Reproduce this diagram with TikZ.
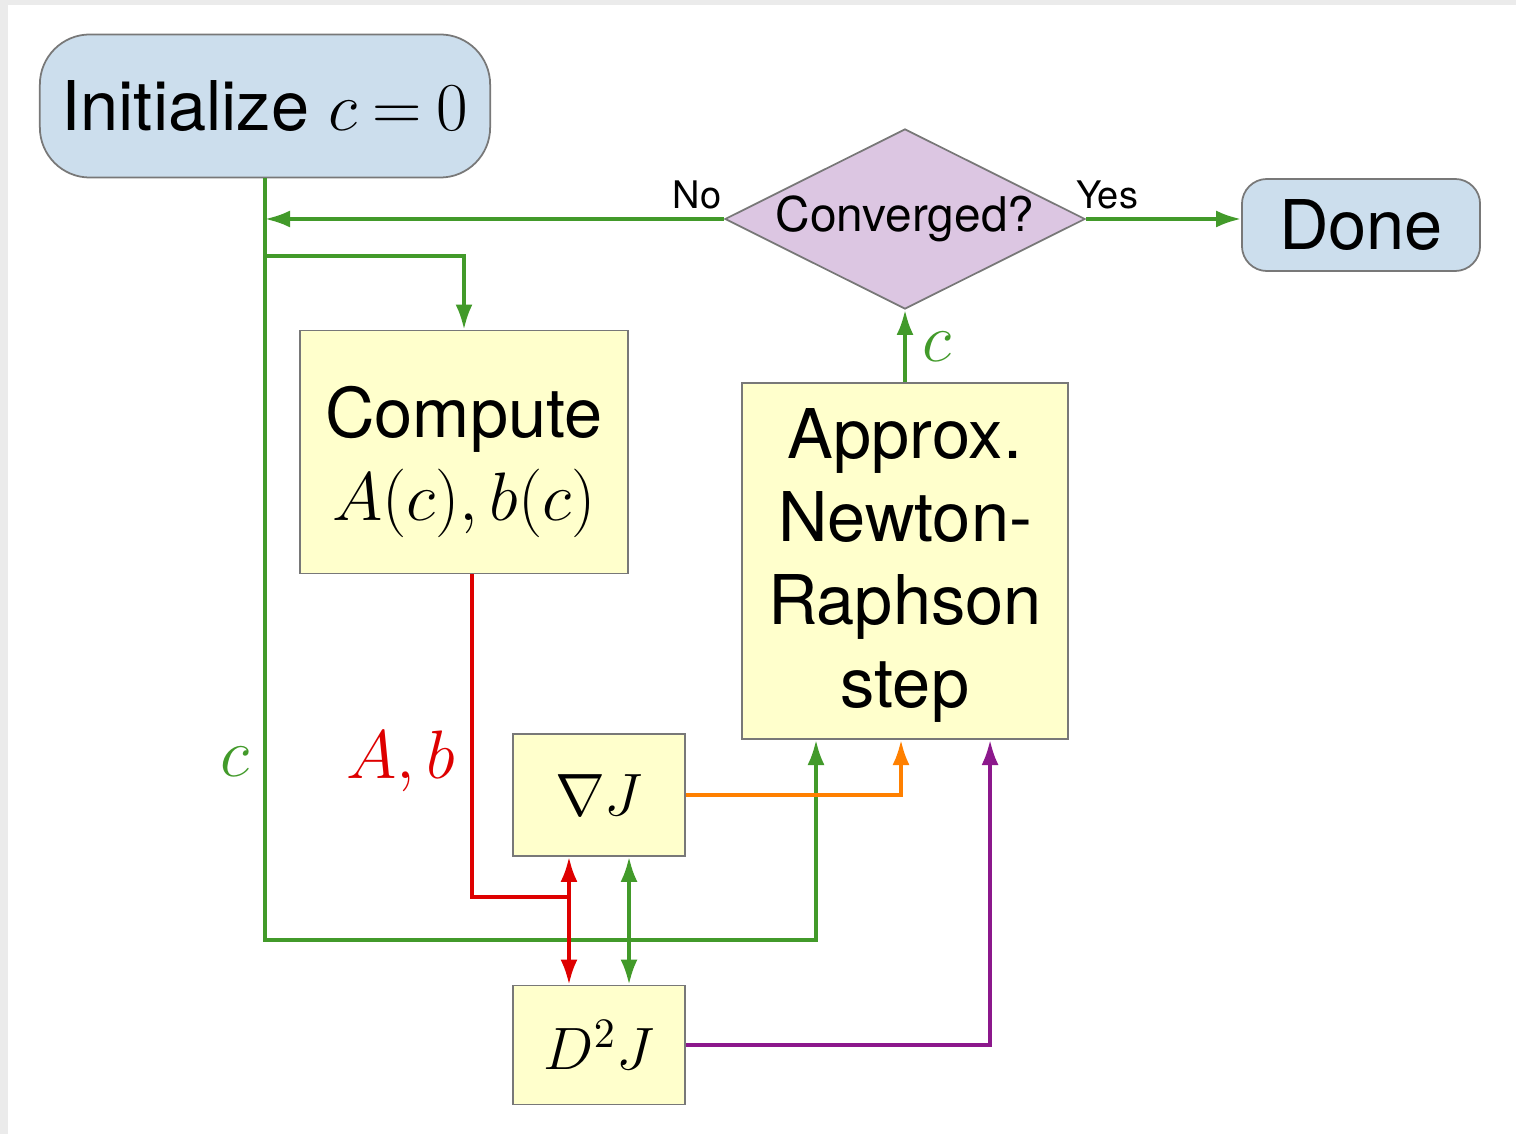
\RequirePackage{fix-cm}
\documentclass[tikz,border=0pt]{standalone}
\usepackage{amsmath,amssymb}
\usepackage{fontspec}
\setmainfont{TeX Gyre Heros}
\usepackage{tikz}
\usetikzlibrary{shapes.geometric,arrows.meta}

\definecolor{flowgreen}{RGB}{66,154,42}
\definecolor{flowred}{RGB}{222,0,0}
\definecolor{floworange}{RGB}{255,128,0}
\definecolor{flowpurple}{RGB}{140,24,140}
\definecolor{termblue}{RGB}{204,222,237}
\definecolor{asklilac}{RGB}{220,198,226}
\definecolor{boxyellow}{RGB}{255,255,204}
\definecolor{boxgray}{RGB}{120,120,120}

\newcommand{\flowbig}{\fontsize{19.5}{23.6}\selectfont}
\newcommand{\flowmath}{\fontsize{17}{20}\selectfont}
\newcommand{\flowmid}{\fontsize{13.6}{16}\selectfont}
\newcommand{\flowsmall}{\fontsize{10.8}{13}\selectfont}

\begin{document}
\begin{tikzpicture}[x=0.01cm,y=-0.01cm,>={Latex[length=0.25cm,width=0.17cm]}]
        \tikzset{BoxStyle/.style={draw=boxgray,line width=0.5pt,fill=boxyellow,
                inner sep=0pt,align=center,font=\flowbig},
                TermStyle/.style={BoxStyle,fill=termblue,rounded corners=0.5cm},
                AskStyle/.style={BoxStyle,diamond,aspect=2,fill=asklilac,font=\flowmid},
                EdgeStyle/.style={line width=1pt,flowgreen}}
        \useasboundingbox (0,0) rectangle (1516,1134);
        \fill[black!8] (0,0) rectangle (1516,1134);
        \fill[white] (8,5) rectangle (1516,1134);
        \node[TermStyle,minimum width=4.5cm,minimum height=1.43cm] (I) at (265,106) {Initialize $c\:{=}\:0$};
        \node[AskStyle,minimum width=3.6cm,minimum height=1.8cm] (Q) at (905,219) {Converged?};
        \node[TermStyle,rounded corners=0.25cm,minimum width=2.38cm,minimum height=0.92cm] (D) at (1361,225) {Done};
        \node[BoxStyle,minimum width=3.28cm,minimum height=2.43cm] (C) at (464,452) {\rule{0pt}{20pt}Compute\\$A(c),b(c)$};
        \node[BoxStyle,minimum width=3.26cm,minimum height=3.56cm] (N) at (905,561) {\rule{0pt}{17pt}Approx.\\Newton-\\Raphson\\step};
        \node[BoxStyle,font=\flowmath,minimum width=1.72cm,minimum height=1.22cm] (G) at (599,795) {$\nabla J$};
        \node[BoxStyle,font=\flowmath,minimum width=1.72cm,minimum height=1.19cm] (H) at (599,1045) {$D^2J$};
        \node[font=\flowsmall] (lno) at (697,195) {No};
        \node[font=\flowsmall] (lyes) at (1107,195) {Yes};
        \node[text=flowgreen,font=\flowbig] (lcup) at (937,347) {$c$};
        \node[text=flowgreen,font=\flowbig] (lc) at (235,762) {$c$};
        \node[text=flowred,font=\flowbig] (lab) at (401,761) {$A,b$};
        \coordinate (fork) at (265,256);
        \coordinate (low) at (816,940);
        \coordinate (meet) at (569,897);
        \draw[EdgeStyle,->] (I.south) |- (low) -- (low |- N.south);
        \draw[EdgeStyle,->] (fork) -| (C.north);
        \draw[EdgeStyle,->] (Q.west) -- (Q.west -| I.south);
        \draw[EdgeStyle,->] (Q.east) -- (Q.east -| D.west);
        \draw[EdgeStyle,->] (N.north) -- (Q.south);
        \draw[EdgeStyle,flowred] ([xshift=0.08cm]C.south) |- (meet);
        \draw[EdgeStyle,flowred,<->] ([xshift=-0.3cm]G.south) -- ([xshift=-0.3cm]H.north);
        \draw[EdgeStyle,<->] ([xshift=0.3cm]G.south) -- ([xshift=0.3cm]H.north);
        \draw[EdgeStyle,floworange,->] (G.east) -| ([xshift=-0.04cm]N.south);
        \draw[EdgeStyle,flowpurple,->] (H.east) -| ([xshift=0.85cm]N.south);
\end{tikzpicture}
\end{document}
